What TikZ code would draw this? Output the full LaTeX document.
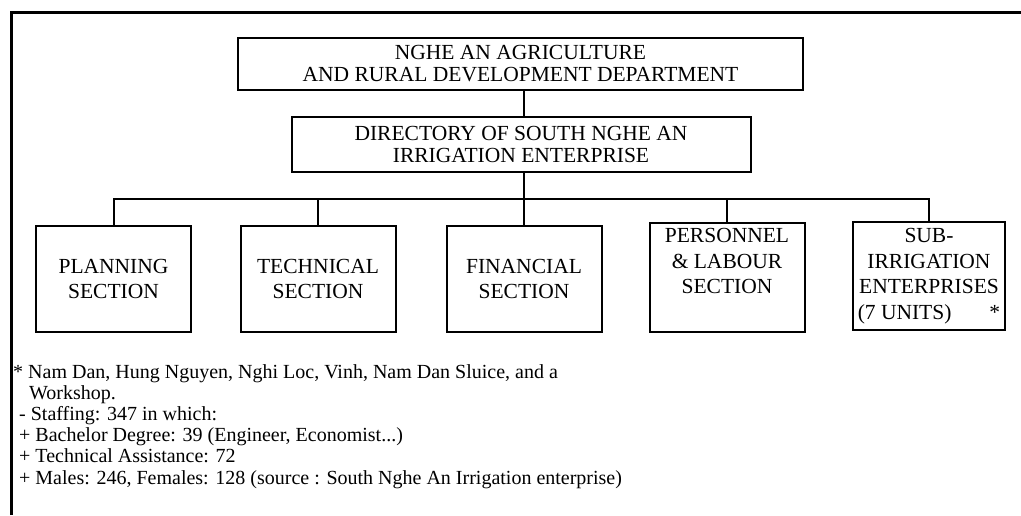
\documentclass[tikz,border=0pt]{standalone}
\usepackage{fontspec}
\setmainfont{Liberation Serif}
\begin{document}
\begin{tikzpicture}[x=1pt,y=-1pt,
  box/.style={draw, line width=2pt, inner sep=0pt, align=center, font=\fontsize{21.5}{22}\selectfont},
  sec/.style={draw, line width=2pt, inner sep=0pt, align=center, minimum width=155pt, minimum height=106pt, font=\fontsize{21.5}{25.5}\selectfont},
  conn/.style={line width=2pt},
  frame/.style={line width=3pt},
  note/.style={anchor=north west, inner sep=0pt, align=left, font=\fontsize{20}{21.2}\selectfont}]
\useasboundingbox (0,0) rectangle (1021,515);
\fill[white] (0,0) rectangle (1021,515);
% frame (left and top edges)
\draw[frame] (11,515) -- (11,12) -- (1021,12);
% boxes
\node[box, minimum width=565pt, minimum height=52pt] (dept) at (520.5,64) {NGHE AN AGRICULTURE\\AND RURAL DEVELOPMENT DEPARTMENT};
\node[box, minimum width=459pt, minimum height=55pt] (dir) at (521,144.5) {DIRECTORY OF SOUTH NGHE AN\\IRRIGATION ENTERPRISE};
\node[sec] (plan) at (113.5,279) {PLANNING\\SECTION};
\node[sec] (tech) at (318,279) {TECHNICAL\\SECTION};
\node[sec] (fin) at (524,279) {FINANCIAL\\SECTION};
\node[sec, minimum height=109pt] (pers) at (727,277.5) {PERSONNEL\\\& LABOUR\\SECTION\\\strut};
\node[sec, minimum width=152pt, minimum height=108pt] (sub) at (929,276) {SUB-\\IRRIGATION\\ENTERPRISES\\(7 UNITS)\hspace{38pt}*};
% connectors
\coordinate (bus) at (524,199);
\draw[conn] (dept.south -| fin.north) -- (dir.north -| fin.north);
\draw[conn] (dir.south -| fin.north) -- (fin.north);
\draw[conn] (plan.north) |- (bus) -| (sub.north);
\draw[conn] (tech.north) -- (tech.north |- bus);
\draw[conn] (pers.north) -- (pers.north |- bus);
% footnote
\node[note] (notes) at (13,364) {*~Nam Dan, Hung Nguyen, Nghi Loc, Vinh, Nam Dan Sluice, and a\\
\hspace*{16pt}Workshop.\\
\hspace*{6pt}- Staffing: 347 in which:\\
\hspace*{6pt}+ Bachelor Degree: 39 (Engineer, Economist...)\\
\hspace*{6pt}+ Technical Assistance: 72\\
\hspace*{6pt}+ Males: 246, Females: 128 (source : South Nghe An Irrigation enterprise)};
\end{tikzpicture}
\end{document}
